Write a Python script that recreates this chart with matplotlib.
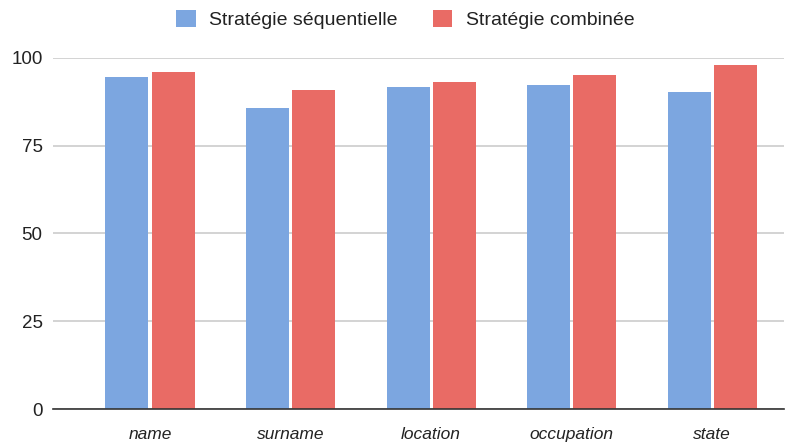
import matplotlib.pyplot as plt
import numpy as np

categories = ["name", "surname", "location", "occupation", "state"]
sequential = [94.5, 85.7, 91.7, 92.2, 90.3]
combined = [95.9, 90.8, 93.1, 95.1, 97.8]

plt.rcParams['font.family'] = ['Liberation Sans', 'DejaVu Sans']

fig = plt.figure(figsize=(7.98, 4.45), dpi=100)
ax = fig.add_axes([53 / 798, 1 - 409 / 445, (784 - 53) / 798, (409 - 57.7) / 445])

x = np.arange(len(categories))
w = 0.306
gap = 0.011
ax.bar(x - w / 2 - gap, sequential, w, color='#7ca6e0', label="Stratégie séquentielle", zorder=3)
ax.bar(x + w / 2 + gap, combined, w, color='#e96b65', label="Stratégie combinée", zorder=3)

ax.set_xlim(-0.69, 4.51)
ax.set_ylim(0, 100)
ax.set_yticks([0, 25, 50, 75, 100])
ax.set_xticks(x)
ax.set_xticklabels(categories, fontstyle='italic')
ax.tick_params(axis='both', length=0, colors='#222222')
ax.tick_params(axis='y', labelsize=13.5, pad=7.5)
ax.tick_params(axis='x', labelsize=12.5, pad=13)

ax.grid(axis='y', color='#cccccc', linewidth=1.2, zorder=0)
for s in ['top', 'right', 'left']:
    ax.spines[s].set_visible(False)
ax.spines['bottom'].set_color('#333333')
ax.spines['bottom'].set_linewidth(1.2)
ax.spines['bottom'].set_zorder(4)

leg = ax.legend(loc='center', bbox_to_anchor=(0.482, 1 + (57.7 - 19.5) / (409 - 57.7)), ncol=2,
                frameon=False, fontsize=14, handlelength=1.0, handleheight=1.0,
                columnspacing=1.8, handletextpad=0.7, borderpad=0)
for t in leg.get_texts():
    t.set_color('#222222')

fig.savefig("out.png", dpi=100)
